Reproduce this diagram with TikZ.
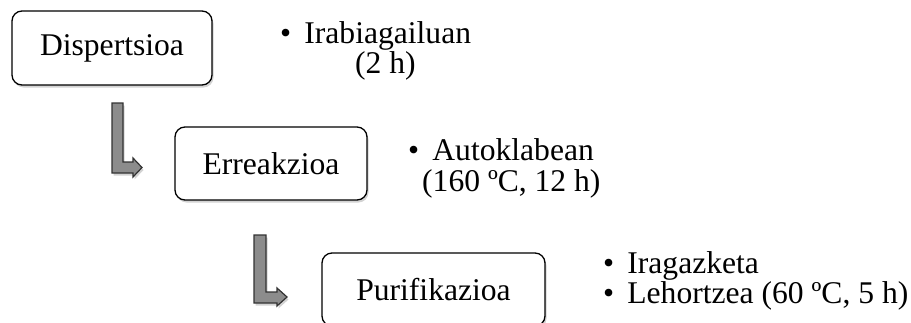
\documentclass[tikz,border=0pt]{standalone}
\usepackage{fontspec}
\setmainfont{Liberation Serif}
\usetikzlibrary{shadows}
\definecolor{arrowgrey}{RGB}{140,140,140}
\definecolor{arrowedge}{RGB}{50,50,50}
\tikzset{
  stepbox/.style={draw=black, line width=1.3pt, rounded corners=10pt, fill=white,
    font=\fontsize{31.6}{36}\selectfont, inner sep=0pt,
    drop shadow={opacity=0.35, shadow xshift=1.5pt, shadow yshift=-2.5pt}},
  lbl/.style={font=\fontsize{31.6}{36}\selectfont, inner sep=0pt, anchor=base west},
  blockarrow/.style={draw=arrowedge, line width=1.2pt, fill=arrowgrey, line join=miter,
    drop shadow={opacity=0.35, shadow xshift=1.5pt, shadow yshift=-2.5pt}}
}
\begin{document}
\begin{tikzpicture}[x=1pt,y=-1pt]
\useasboundingbox (0,0) rectangle (911,322);
% boxes
\node[stepbox, minimum width=200pt, minimum height=74pt] (disp) at (112,48) {Dispertsioa};
\node[stepbox, minimum width=192pt, minimum height=73pt] (erre) at (271,163.5) {Erreakzioa};
\node[stepbox, minimum width=223pt, minimum height=73pt] (puri) at (433.5,289.5) {Purifikazioa};
% block arrows
\coordinate (a1) at (112,103);
\coordinate (a2) at (254,235);
\draw[blockarrow, shift={(a1)}] (0,0) -- (11,0) -- (11,59) -- (21,59) -- (21,55) -- (30,64.5) -- (21,74) -- (21,70) -- (0,70) -- cycle;
\draw[blockarrow, shift={(a2)}] (0,0) -- (12,0) -- (12,57) -- (23,57) -- (23,53) -- (33,62) -- (23,71) -- (23,68) -- (0,68) -- cycle;
% notes
\node[lbl] (n1) at (280,43) {•\, Irabiagailuan};
\node[lbl] (n1b) at (355,73) {(2 h)};
\node[lbl] (n2) at (408,160) {•\, Autoklabean};
\node[lbl] (n2b) at (422,191) {(160 ºC, 12 h)};
\node[lbl] (n3) at (603,273) {•\, Iragazketa};
\node[lbl] (n3b) at (603,303) {•\, Lehortzea (60 ºC, 5 h)};
\end{tikzpicture}
\end{document}
